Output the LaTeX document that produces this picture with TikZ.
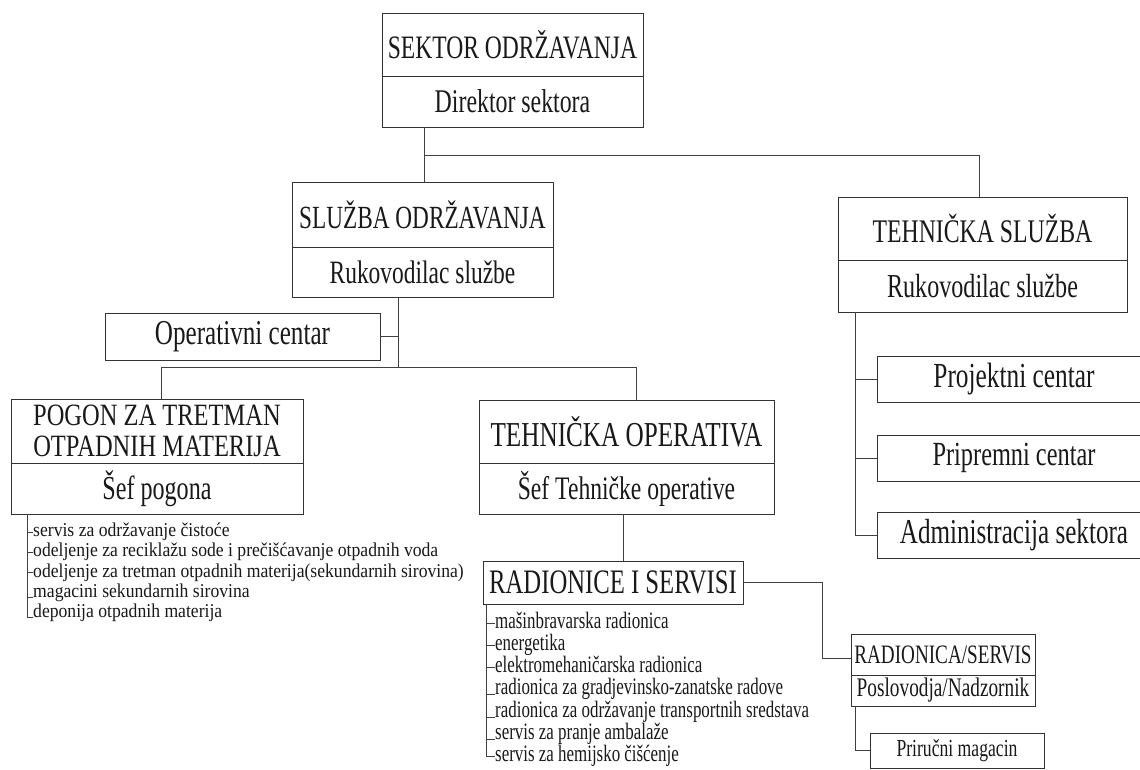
\documentclass[tikz,border=0pt]{standalone}
\usepackage{fontspec}
\setmainfont{Liberation Serif}[FakeStretch=0.72]
\newfontfamily\listfont{Liberation Serif}[FakeStretch=0.9]
\newfontfamily\pgfont{Liberation Serif}[FakeStretch=0.79]
\newcommand\fs[1]{\fontsize{#1}{#1}\selectfont}
\begin{document}
\begin{tikzpicture}[x=1pt,y=-1pt,
  box/.style={draw=black!80, line width=0.8pt, fill=white, inner sep=0pt, text=black!90},
  conn/.style={draw=black!75, line width=0.8pt},
  item/.style={font=\fs{23.5}, inner sep=0pt, anchor=west, text height=10.5pt, text depth=0pt, text=black!90},
  pitem/.style={font=\listfont\fs{19.6}, inner sep=0pt, anchor=west, text height=9pt, text depth=0pt, text=black!90}]
\useasboundingbox[fill=white] (0,0) rectangle (1140,769);
\clip (0,0) rectangle (1140,769);

% boxes
\node[box,font=\fs{32.7},minimum width=261pt,minimum height=63pt] (sek) at (512.5,44.5) {SEKTOR ODRŽAVANJA};
\node[box,font=\fs{33.1},minimum width=261pt,minimum height=51pt] (sekd) at (512.5,101.5) {Direktor sektora};
\node[box,font=\fs{32.3},minimum width=261pt,minimum height=65pt] (sl) at (422.5,214.5) {SLUŽBA ODRŽAVANJA};
\node[box,font=\fs{32.6},minimum width=261pt,minimum height=50pt] (sld) at (422.5,272) {Rukovodilac službe};
\node[box,font=\fs{33},minimum width=289pt,minimum height=63pt] (ts) at (982.5,228.5) {TEHNIČKA SLUŽBA};
\node[box,font=\fs{33.5},minimum width=289pt,minimum height=52pt] (tsd) at (982.5,286) {Rukovodilac službe};
\node[box,font=\fs{34.9},minimum width=275pt,minimum height=47pt] (op) at (242.5,336.5) {Operativni centar};
\node[box,font=\pgfont\fontsize{31}{31}\selectfont,minimum width=292pt,minimum height=64pt,align=center] (pg) at (157,431) {POGON ZA TRETMAN\\OTPADNIH MATERIJA};
\node[box,font=\fs{33.5},minimum width=292pt,minimum height=51pt] (pgd) at (157,488.5) {Šef pogona};
\node[box,font=\fs{35},minimum width=295pt,minimum height=63pt] (to) at (626.5,431.5) {TEHNIČKA OPERATIVA};
\node[box,font=\fs{32.8},minimum width=295pt,minimum height=51pt] (tod) at (626.5,488.5) {Šef Tehničke operative};
\node[box,font=\fs{34.3},minimum width=260pt,minimum height=43pt] (rs) at (613,582.5) {RADIONICE I SERVISI};
\node[box,font=\fs{26.6},minimum width=184pt,minimum height=41pt] (ra) at (943,654.5) {RADIONICA/SERVIS};
\node[box,font=\fs{26.8},minimum width=184pt,minimum height=31pt] (rad) at (943,690.5) {Poslovodja/Nadzornik};
\node[box,font=\fs{24.5},minimum width=174pt,minimum height=35pt] (pm) at (957,750.5) {Priručni magacin};
\node[box,font=\fs{35.2},minimum width=274pt,minimum height=46pt] (pc) at (1014,379) {Projektni centar};
\node[box,font=\fs{33.8},minimum width=274pt,minimum height=46pt] (pr) at (1014,458) {Pripremni centar};
\node[box,font=\fs{34.9},minimum width=274pt,minimum height=46pt] (ad) at (1014,535.5) {Administracija sektora};

% connectors
\coordinate (j1) at (424,155);
\coordinate (j2) at (979,155);
\draw[conn] (j1 |- sekd.south) -- (j1 |- sl.north);
\draw[conn] (j1) -- (j2) -- (j2 |- ts.north);
\coordinate (j3) at (398,367);
\draw[conn] (j3 |- sld.south) -- (j3);
\draw[conn] (op.east) -- (op.east -| j3);
\coordinate (j4) at (161,367);
\coordinate (j5) at (636,367);
\draw[conn] (j4 |- pg.north) -- (j4) -- (j5) -- (j5 |- to.north);
\coordinate (j6) at (623,0);
\draw[conn] (j6 |- tod.south) -- (j6 |- rs.north);
\coordinate (j7) at (822,658);
\draw[conn] (rs.east) -- (rs.east -| j7) -- (j7) -- (j7 -| ra.west);
\coordinate (j8) at (855,750.5);
\draw[conn] (j8 |- rad.south) -- (j8) -- (pm.west);
\coordinate (j9) at (855,0);
\draw[conn] (j9 |- tsd.south) -- (j9 |- ad.west) -- (ad.west);
\draw[conn] (j9 |- pc.west) -- (pc.west);
\draw[conn] (j9 |- pr.west) -- (pr.west);

% POGON list
\node[pitem] (p1) at (33,532) {servis za održavanje čistoće};
\node[pitem] (p2) at (33,552.3) {odeljenje za reciklažu sode i prečišćavanje otpadnih voda};
\node[pitem] (p3) at (33,572.6) {odeljenje za tretman otpadnih materija(sekundarnih sirovina)};
\node[pitem] (p4) at (33,592.9) {magacini sekundarnih sirovina};
\node[pitem] (p5) at (33,613.2) {deponija otpadnih materija};
\coordinate (l1) at (27,0);
\draw[conn] (l1 |- pgd.south) -- (l1 |- p5.base west) -- (p5.base west);
\foreach \n in {p1,p2,p3} \draw[conn] (l1 |- \n.west) -- (\n.west);
\draw[conn] (l1 |- p4.base west) -- (p4.base west);

% RADIONICE list
\node[item] (r1) at (495,623) {mašinbravarska radionica};
\node[item] (r2) at (495,645) {energetika};
\node[item] (r3) at (495,667) {elektromehaničarska radionica};
\node[item] (r4) at (495,689.5) {radionica za gradjevinsko-zanatske radove};
\node[item] (r5) at (495,712) {radionica za održavanje transportnih sredstava};
\node[item] (r6) at (495,734) {servis za pranje ambalaže};
\node[item] (r7) at (495,756) {servis za hemijsko čišćenje};
\coordinate (l2) at (486,0);
\draw[conn] (l2 |- rs.south) -- (l2 |- r7.west) -- (r7.west);
\foreach \n in {r1,r2,r3} \draw[conn] (l2 |- \n.west) -- (\n.west);
\foreach \n in {r4,r5,r6} \draw[conn] (l2 |- \n.base west) -- (\n.base west);
\end{tikzpicture}
\end{document}
